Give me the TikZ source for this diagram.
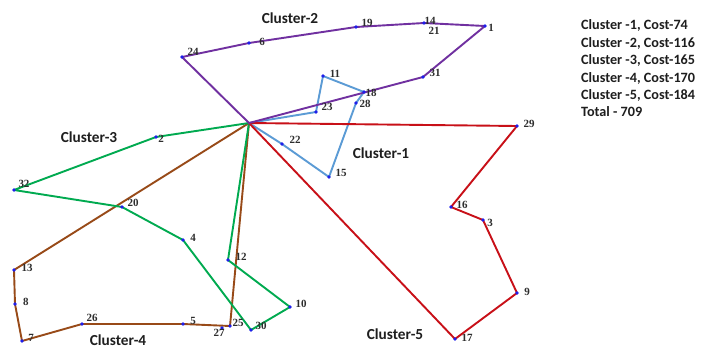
\documentclass[tikz,border=0pt]{standalone}
\usepackage{fontspec}
\setmainfont{Liberation Serif}
\newfontfamily\capfont{Carlito}

\definecolor{routeA}{RGB}{91,155,213}   % cluster 1
\definecolor{routeB}{RGB}{112,48,160}   % cluster 2
\definecolor{routeC}{RGB}{0,170,80}     % cluster 3
\definecolor{routeD}{RGB}{152,74,24}    % cluster 4
\definecolor{routeE}{RGB}{200,16,24}    % cluster 5
\definecolor{dotblue}{RGB}{30,30,235}
\definecolor{numgray}{RGB}{45,45,45}
\definecolor{txtgray}{RGB}{30,30,30}

\pgfdeclarelayer{paper}
\pgfdeclarelayer{routes}
\pgfsetlayers{paper,routes,main}

\tikzset{
  route/.style={line width=1.9pt, line join=round, line cap=round},
  pt/.style={circle, fill=dotblue, inner sep=0pt, minimum size=3.6pt},
  num/.style={font=\bfseries\fontsize{11}{12}\selectfont, text=numgray, inner sep=0pt},
  cname/.style={font=\capfont\bfseries\fontsize{15.3}{17}\selectfont, text=txtgray, inner sep=0pt},
  legend/.style={font=\capfont\bfseries\fontsize{14.2}{16}\selectfont, text=txtgray, inner sep=0pt, anchor=west}
}

\begin{document}
\begin{tikzpicture}[x=1pt,y=-1pt]
\begin{pgfonlayer}{paper}
\useasboundingbox[fill=white] (0,0) rectangle (705,349);
\end{pgfonlayer}

% depot
\coordinate (dep) at (249,123);

% customer locations
\node[pt] (n1)  at (485,26)  {};
\node[pt] (n2)  at (156,137) {};
\node[pt] (n3)  at (483,220) {};
\node[pt] (n4)  at (183,240) {};
\node[pt] (n5)  at (183,324) {};
\node[pt] (n6)  at (249,43)  {};
\node[pt] (n7)  at (22,341)  {};
\node[pt] (n8)  at (15,304)  {};
\node[pt] (n9)  at (517,293) {};
\node[pt] (n10) at (290,307) {};
\node[pt] (n11) at (323,76)  {};
\node[pt] (n12) at (228,260) {};
\node[pt] (n13) at (14,270)  {};
\node[pt] (n14) at (424,23)  {};
\node[pt] (n15) at (329,177) {};
\node[pt] (n16) at (451,207) {};
\node[pt] (n17) at (455,339) {};
\node[pt] (n18) at (364,92)  {};
\node[pt] (n19) at (356,27)  {};
\node[pt] (n20) at (122,207) {};
\node[pt] (n22) at (282,144) {};
\node[pt] (n23) at (316,112) {};
\node[pt] (n24) at (182,57)  {};
\node[pt] (n25) at (230,326) {};
\node[pt] (n26) at (82,324)  {};
\node[pt] (n27) at (222,328) {};
\node[pt] (n28) at (356,103) {};
\node[pt] (n29) at (517,126) {};
\node[pt] (n30) at (251,330) {};
\node[pt] (n31) at (423,77)  {};
\node[pt] (n32) at (14,190)  {};

\begin{pgfonlayer}{routes}
% cluster 4 route
\draw[route, routeD] (dep) -- (n13.center) -- (n8.center) -- (n7.center) -- (n26.center)
  -- (n5.center) -- (n25.center) -- (dep);
% cluster 3 route
\draw[route, routeC] (dep) -- (n2.center) -- (n32.center) -- (n20.center) -- (n4.center)
  -- (n30.center) -- (n10.center) -- (n12.center) -- (dep);
% cluster 1 route
\draw[route, routeA] (dep) -- (n23.center) -- (n11.center) -- (n18.center) -- (n28.center)
  -- (n15.center) -- (n22.center) -- (dep);
% cluster 5 route
\draw[route, routeE] (dep) -- (n29.center) -- (n16.center) -- (n3.center) -- (n9.center)
  -- (n17.center) -- (dep);
% cluster 2 route
\draw[route, routeB] (dep) -- (n24.center) -- (n6.center) -- (n19.center) -- (n14.center)
  -- (n1.center) -- (n31.center) -- (dep);
\end{pgfonlayer}

% point numbers
\node[num] (t1)  at (491,28)  {1};
\node[num] (t2)  at (161,139) {2};
\node[num] (t3)  at (490,223) {3};
\node[num] (t4)  at (193,238) {4};
\node[num] (t5)  at (193,321) {5};
\node[num] (t6)  at (262,42)  {6};
\node[num] (t7)  at (31,338)  {7};
\node[num] (t8)  at (26,302)  {8};
\node[num] (t9)  at (527,292) {9};
\node[num] (t10) at (301,304) {10};
\node[num] (t11) at (335,74)  {11};
\node[num] (t12) at (241,257) {12};
\node[num] (t13) at (27,268)  {13};
\node[num] (t14) at (430,21)  {14};
\node[num] (t15) at (341,173) {15};
\node[num] (t16) at (462,205) {16};
\node[num] (t17) at (467,338) {17};
\node[num] (t18) at (371,93)  {18};
\node[num] (t19) at (367,23)  {19};
\node[num] (t20) at (133,203) {20};
\node[num] (t21) at (434,31)  {21};
\node[num] (t22) at (295,140) {22};
\node[num] (t23) at (327,107) {23};
\node[num] (t24) at (193,52)  {24};
\node[num] (t25) at (238,323) {25};
\node[num] (t26) at (92,318)  {26};
\node[num] (t27) at (219,333) {27};
\node[num] (t28) at (365,104) {28};
\node[num] (t29) at (529,124) {29};
\node[num] (t30) at (261,326) {30};
\node[num] (t31) at (435,73)  {31};
\node[num] (t32) at (24,184)  {32};

% cluster names
\node[cname] (c1) at (381,153) {Cluster-1};
\node[cname] (c2) at (290,18)  {Cluster-2};
\node[cname] (c3) at (89,137)  {Cluster-3};
\node[cname] (c4) at (118,340) {Cluster-4};
\node[cname] (c5) at (395,334) {Cluster-5};

% costs
\node[legend] (g1) at (581,25)  {Cluster -1, Cost-74};
\node[legend] (g2) at (581,43)  {Cluster -2, Cost-116};
\node[legend] (g3) at (581,60)  {Cluster -3, Cost-165};
\node[legend] (g4) at (581,78)  {Cluster -4, Cost-170};
\node[legend] (g5) at (581,95)  {Cluster -5, Cost-184};
\node[legend] (g6) at (581,112) {Total - 709};
\end{tikzpicture}
\end{document}
